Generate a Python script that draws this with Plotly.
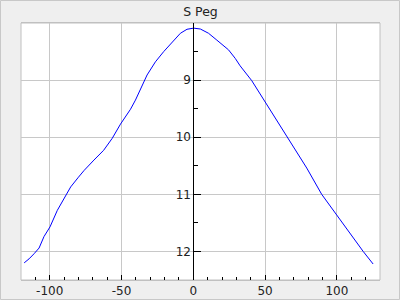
import plotly.graph_objects as go

phase = [-117.8, -114.4, -110.9, -107.4, -104.0, -99.8, -94.7, -90.0, -85.4,
         -80.0, -76.0, -69.2, -62.5, -56.5, -50.7, -43.75, -40.3, -32.2, -26.4,
         -20.6, -14.8, -9.0, -4.4, 0.2, 4.9, 10.6, 16.4, 24.5, 29.2, 32.6,
         40.7, 50.0, 65.0, 79.0, 89.4, 100.9, 118.3, 125.2]
mag = [12.20, 12.13, 12.04, 11.94, 11.74, 11.57, 11.28, 11.07, 10.87,
       10.70, 10.58, 10.40, 10.23, 10.02, 9.77, 9.51, 9.35, 8.91, 8.68,
       8.50, 8.33, 8.18, 8.11, 8.09, 8.105, 8.18, 8.30, 8.47, 8.62, 8.75,
       9.01, 9.38, 9.96, 10.54, 11.00, 11.40, 12.00, 12.22]

x_ticks = [-100, -50, 0, 50, 100]
x_labels = ["-100", "-50", "0", "50", "100"]
y_ticks = [9, 10, 11, 12]
y_labels = ["9", "10", "11", "12"]
title = "S Peg"

FONT = "DejaVu Sans"
ML, MR, MT, MB = 21, 20, 23, 20
W, H = 400, 300
PW, PH = W - ML - MR, H - MT - MB

fig = go.Figure()
fig.add_trace(go.Scatter(x=phase, y=mag, mode="lines",
                         line=dict(color="#0000ff", width=1),
                         hoverinfo="skip", showlegend=False))

fig.update_layout(
    width=W, height=H,
    margin=dict(l=ML, r=MR, t=MT, b=MB, pad=0, autoexpand=False),
    paper_bgcolor="#efefef",
    plot_bgcolor="#ffffff",
    font=dict(family=FONT, size=12, color="#222222"),
    title=dict(text=title, x=0.5, xref="paper", xanchor="center",
               y=1 - 12 / H, yref="container", yanchor="middle",
               font=dict(family=FONT, size=12.5, color="#222222"),
               automargin=False),
    xaxis=dict(range=[-120, 130], tickvals=x_ticks, ticktext=x_labels,
               showgrid=True, gridcolor="#c8c8c8", gridwidth=1,
               zeroline=False, showline=True, linecolor="#c0c0c0",
               linewidth=1, mirror=True, automargin=False,
               ticks="inside", ticklen=5, tickcolor="#000000",
               minor=dict(dtick=10, tick0=0, ticks="inside", ticklen=3,
                          tickcolor="#000000", showgrid=False),
               tickfont=dict(family=FONT, size=12, color="#222222"),
               fixedrange=True),
    yaxis=dict(range=[12.5, 8.0], tickvals=y_ticks, ticktext=y_labels,
               anchor="free", position=120 / 250, side="left",
               showgrid=True, gridcolor="#c8c8c8", gridwidth=1,
               zeroline=False, showline=True, linecolor="#000000",
               linewidth=1, automargin=False,
               ticks="inside", ticklen=7, tickcolor="#000000",
               minor=dict(dtick=0.5, tick0=8, ticks="inside", ticklen=4,
                          tickcolor="#000000", showgrid=False),
               tickfont=dict(family=FONT, size=12, color="#222222"),
               fixedrange=True),
    shapes=[
        dict(type="rect", xref="paper", yref="paper",
             x0=0, x1=1, y0=0, y1=1,
             line=dict(color="#c0c0c0", width=1), layer="below"),
        dict(type="rect", xref="paper", yref="paper",
             x0=(0.5 - ML) / PW, x1=(W - 0.5 - ML) / PW,
             y0=(H - MB - (H - 0.5)) / PH, y1=(H - MB - 0.5) / PH,
             line=dict(color="#c8c8c8", width=1), layer="below"),
    ],
)

fig.write_html("out.html", config={"displayModeBar": False})
